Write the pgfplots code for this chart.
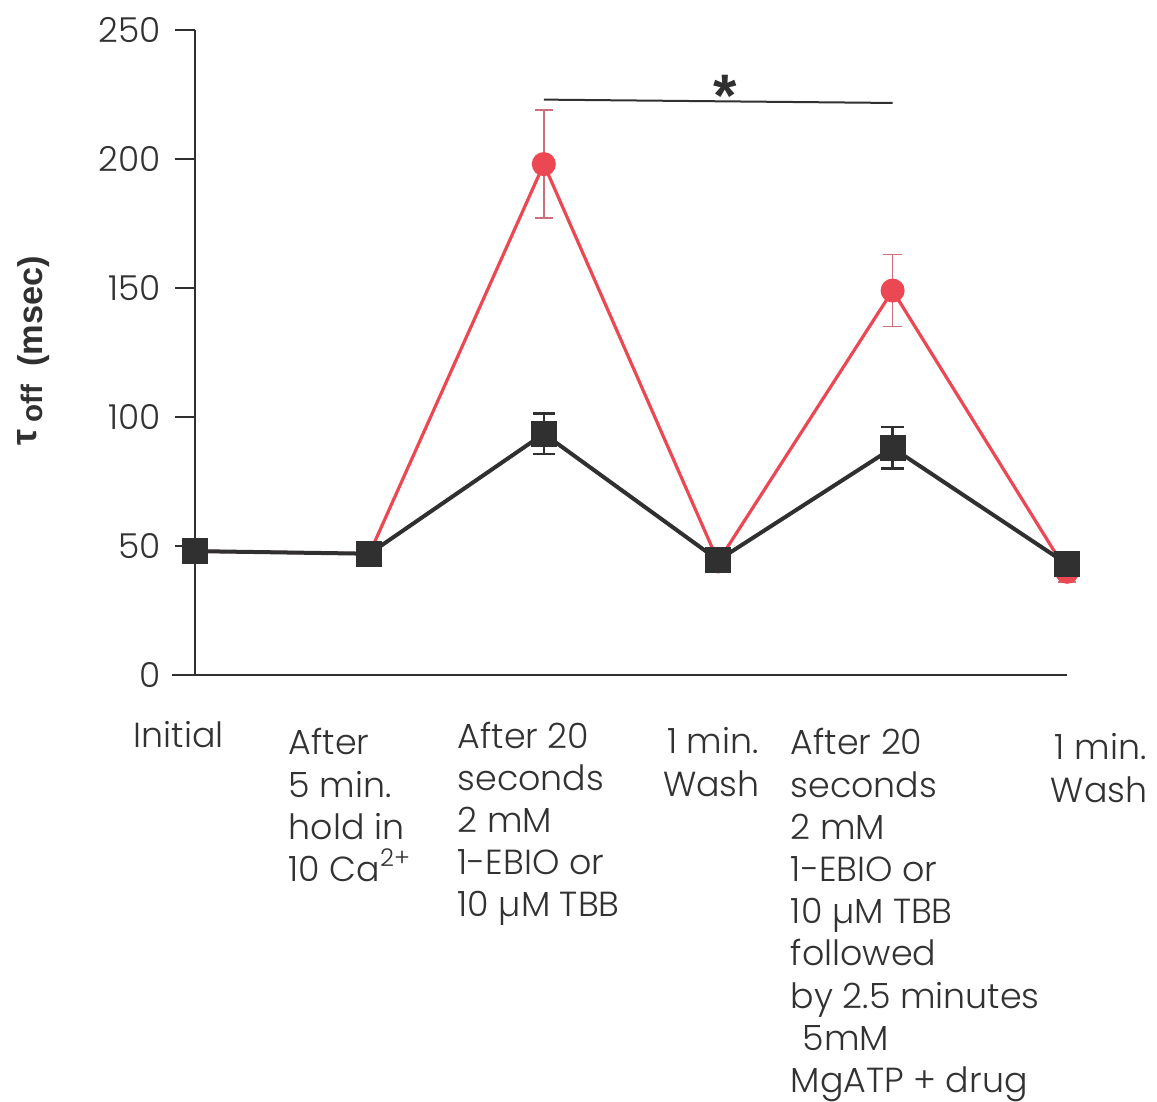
\documentclass[border=0pt]{standalone}
\usepackage{pgfplots}
\pgfplotsset{compat=1.18}
\usepackage{pgfplotstable}
\usepackage{fontspec}
\setmainfont{Poppins}[UprightFont=*-Light]
\newfontfamily\ylabfont{Liberation Sans}

\definecolor{ebioRed}{RGB}{236,72,84}
\definecolor{ebioBar}{RGB}{205,110,125}
\definecolor{ctrlDark}{RGB}{48,48,48}
\definecolor{textGray}{RGB}{50,50,50}

% drug-treated series (mean, s.e.m.)
\pgfplotstableread{
x y err
0 48 0
1 47 0
2 198 21
3 44 0
4 149 14
5 40 4
}\drugtab

% control series (mean, s.e.m.)
\pgfplotstableread{
x y err
0 48 0
1 47 0
2 93.5 7.8
3 44.5 0
4 88 8
5 43 0
}\ctrltab

\begin{document}
\begin{tikzpicture}
\begin{axis}[
  scale only axis,
  width=218pt, height=161.25pt,
  xmin=0, xmax=5, ymin=0, ymax=250,
  axis lines*=left,
  axis line style={line width=0.6pt, color=ctrlDark},
  xtick=\empty,
  ytick={0,50,...,250},
  tick align=outside,
  major tick length=5pt,
  tick style={line width=0.6pt, color=ctrlDark},
  /pgf/number format/assume math mode=true,
  yticklabel style={font=\fontsize{8.6}{9}\selectfont, color=textGray},
  clip=false,
]
% page extent
\path (axis cs:-1.118,261.6) rectangle (axis cs:5.516,-165.5);

% x axis extends slightly left of the y axis
\draw[line width=0.6pt, ctrlDark] (axis cs:-0.13,0) -- (axis cs:0,0);

\addplot[color=ebioRed, line width=0.8pt, mark=*, mark size=2.6pt,
  mark options={fill=ebioRed, draw=ebioRed},
  error bars/.cd, y dir=both, y explicit,
  error bar style={line width=0.4pt, color=ebioBar},
  error mark options={rotate=90, mark size=2.3pt, line width=0.4pt, color=ebioBar}]
  table[x=x, y=y, y error=err] {\drugtab};

\addplot[color=ctrlDark, line width=1pt, mark=square*, mark size=2.75pt,
  mark options={fill=ctrlDark, draw=ctrlDark},
  error bars/.cd, y dir=both, y explicit,
  error bar style={line width=0.6pt, color=ctrlDark},
  error mark options={rotate=90, mark size=2.8pt, line width=0.6pt, color=ctrlDark}]
  table[x=x, y=y, y error=err] {\ctrltab};

% significance bracket
\draw[line width=0.5pt, ctrlDark] (axis cs:2,223) -- (axis cs:4,221.7);
\node[font=\ylabfont\bfseries\fontsize{15}{15}\selectfont, text=ctrlDark, inner sep=0]
  at (axis cs:3.04,224.5) {*};

% y axis title
\node[rotate=90, anchor=base west, inner sep=0, text=ctrlDark,
      font=\ylabfont\bfseries]
  at (axis cs:-0.877,88.8)
  {\raisebox{1.5pt}{\fontsize{9}{10}\selectfont τ}\,{\fontsize{7.4}{8}\selectfont off}\hspace{4.5pt}{\fontsize{8.6}{10}\selectfont (msec)}};

% condition labels
\begin{scope}[every node/.style={anchor=north west, inner sep=0, align=left,
    font=\fontsize{8.7}{10.55}\selectfont, text=textGray}]
\node at ([yshift=-11.5pt]axis cs:-0.355,0) {Initial};
\node at ([yshift=-13.2pt]axis cs:0.533,0) {After\\5 min.\\hold in\\10 Ca\textsuperscript{2+}};
\node at ([yshift=-11.5pt]axis cs:1.502,0) {After 20\\seconds\\2 mM\\1-EBIO or\\10 \textmu M TBB};
\node at ([yshift=-13pt]axis cs:2.68,0) {\hspace*{1pt}1 min.\\Wash};
\node at ([yshift=-13.2pt]axis cs:3.412,0) {After 20\\seconds\\2 mM\\1-EBIO or\\10 \textmu M TBB\\followed\\by 2.5 minutes\\\hspace*{3pt}5mM\\MgATP + drug};
\node at ([yshift=-14.5pt]axis cs:4.903,0) {\hspace*{1pt}1 min.\\Wash};
\end{scope}
\end{axis}
\end{tikzpicture}
\end{document}
